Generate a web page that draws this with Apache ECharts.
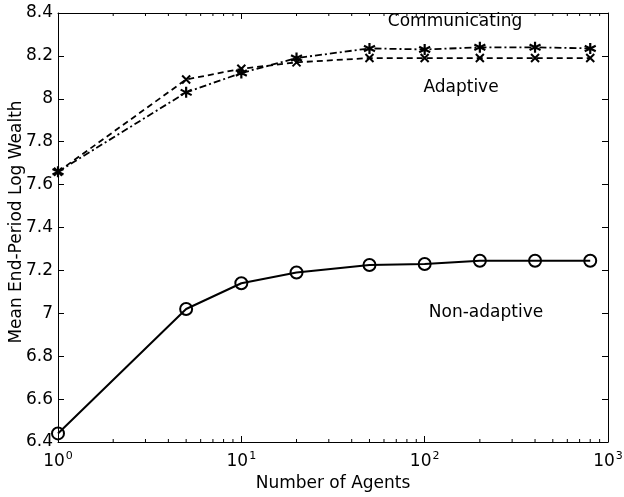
<!DOCTYPE html>
<html><head><meta charset="utf-8">
<script src="https://cdn.jsdelivr.net/npm/echarts@6/dist/echarts.min.js"></script>
<style>html,body{margin:0;padding:0;background:#fff}#c{width:624px;height:497px}</style>
</head><body><div id="c"></div>
<script>
var agents = [1, 5, 10, 20, 50, 100, 200, 400, 800];
var communicating = [7.66, 8.03, 8.12, 8.19, 8.235, 8.23, 8.24, 8.24, 8.235];
var adaptive = [7.66, 8.09, 8.14, 8.17, 8.19, 8.19, 8.19, 8.19, 8.19];
var nonAdaptive = [6.44, 7.02, 7.14, 7.19, 7.225, 7.23, 7.245, 7.245, 7.245];
var yTicks = {min: 6.4, max: 8.4, interval: 0.2};
var xRange = {min: 1, max: 1000};
var yTitle = 'Mean End-Period Log Wealth';
var xTitle = 'Number of Agents';
var labels = [
  {text: 'Communicating', x: 455, y: 22},
  {text: 'Adaptive', x: 461, y: 88},
  {text: 'Non-adaptive', x: 486, y: 313}
];

var minorVals = [];
for (var e = 0; e < 3; e++) for (var m = 2; m <= 9; m++) minorVals.push(m * Math.pow(10, e));

var FONT = '"DejaVu Sans", "Liberation Sans", Arial, sans-serif';
var FS = 17;
function pair(xs, ys) { return xs.map(function (x, i) { return [x, ys[i]]; }); }

var starPath = 'path://M0,-10L0,10M-8.66,-5L8.66,5M-8.66,5L8.66,-5';
var xPath = 'path://M-7,-7L7,7M-7,7L7,-7';

var chart = echarts.init(document.getElementById('c'), null, {renderer: 'canvas'});
var axisLine = {show: true, lineStyle: {color: '#000', width: 1}};
var graphics = labels.map(function (l) {
  return {type: 'text', x: l.x, y: l.y, style: {text: l.text, fill: '#000', font: FS + 'px ' + FONT, textAlign: 'center', textVerticalAlign: 'middle'}};
});
graphics.push({type: 'text', x: 17, y: 222, rotation: Math.PI / 2,
  style: {text: yTitle, fill: '#000', font: FS + 'px ' + FONT, textAlign: 'center', textVerticalAlign: 'middle'}});
chart.setOption({
  animation: false,
  backgroundColor: '#fff',
  grid: {left: 58, right: 16, top: 13, bottom: 55, show: false, containLabel: false, outerBoundsMode: 'none'},
  xAxis: [{
    type: 'log', logBase: 10, min: xRange.min, max: xRange.max,
    axisLine: axisLine,
    axisTick: {inside: true, length: 6, lineStyle: {color: '#000'}},
    splitLine: {show: false},
    axisLabel: {
      color: '#000', fontFamily: FONT, fontSize: FS, margin: 9,
      formatter: function (v) { return '10{s|' + Math.round(Math.log10(v)) + '}'; },
      rich: {s: {fontSize: 11, fontFamily: FONT, color: '#000', verticalAlign: 'top', padding: [0, 0, 10, 1]}}
    },
    name: xTitle, nameLocation: 'middle', nameGap: 33,
    nameTextStyle: {color: '#000', fontFamily: FONT, fontSize: FS}
  }, {
    type: 'log', logBase: 10, min: xRange.min, max: xRange.max, position: 'top',
    axisLine: axisLine,
    axisTick: {inside: true, length: 6, lineStyle: {color: '#000'}},
    axisLabel: {show: false}, splitLine: {show: false}
  }],
  yAxis: [{
    type: 'value', min: yTicks.min, max: yTicks.max, interval: yTicks.interval,
    axisLine: axisLine,
    axisTick: {inside: true, length: 6, lineStyle: {color: '#000'}},
    splitLine: {show: false},
    axisLabel: {color: '#000', fontFamily: FONT, fontSize: FS, margin: 5,
      formatter: function (v) { return String(Math.round(v * 10) / 10); }}
  }, {
    type: 'value', min: yTicks.min, max: yTicks.max, interval: yTicks.interval, position: 'right',
    axisLine: axisLine,
    axisTick: {inside: true, length: 6, lineStyle: {color: '#000'}},
    axisLabel: {show: false}, splitLine: {show: false}
  }],
  graphic: graphics,
  series: [{
    name: 'minor', type: 'custom', silent: true, xAxisIndex: 0, yAxisIndex: 0,
    data: minorVals.map(function (v) { return [v]; }),
    renderItem: function (params, api) {
      var p = api.coord([api.value(0), yTicks.min]);
      var t = api.coord([api.value(0), yTicks.max]);
      return {type: 'group', children: [
        {type: 'line', shape: {x1: p[0], y1: p[1], x2: p[0], y2: p[1] - 3}, style: {stroke: '#000', lineWidth: 1}},
        {type: 'line', shape: {x1: t[0], y1: t[1], x2: t[0], y2: t[1] + 3}, style: {stroke: '#000', lineWidth: 1}}
      ]};
    }
  }, {
    name: 'Non-adaptive', type: 'line', data: pair(agents, nonAdaptive),
    lineStyle: {color: '#000', width: 2},
    symbol: 'circle', symbolSize: 12, showAllSymbol: true,
    itemStyle: {color: 'rgba(255,255,255,0)', borderColor: '#000', borderWidth: 2}
  }, {
    name: 'Adaptive', type: 'line', data: pair(agents, adaptive),
    lineStyle: {color: '#000', width: 1.8, type: [6, 4]},
    symbol: xPath, symbolSize: 8, showAllSymbol: true,
    itemStyle: {color: 'none', borderColor: '#000', borderWidth: 2}
  }, {
    name: 'Communicating', type: 'line', data: pair(agents, communicating),
    lineStyle: {color: '#000', width: 1.8, type: [7, 3, 2, 3]},
    symbol: starPath, symbolSize: 11, showAllSymbol: true,
    itemStyle: {color: 'none', borderColor: '#000', borderWidth: 2.2}
  }]
});
</script></body></html>
